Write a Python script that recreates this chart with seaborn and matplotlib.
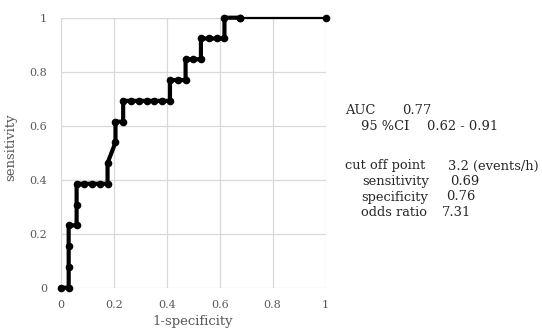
import matplotlib
matplotlib.use("Agg")
import matplotlib.pyplot as plt
import seaborn as sns
import pandas as pd

# ROC curve points
fpr = [0.0, 0.029, 0.029, 0.029, 0.029, 0.059, 0.059, 0.059, 0.088, 0.118,
       0.147, 0.176, 0.176, 0.206, 0.206, 0.235, 0.235, 0.265, 0.294, 0.324,
       0.353, 0.382, 0.412, 0.412, 0.441, 0.471, 0.471, 0.500, 0.529, 0.529,
       0.559, 0.588, 0.618, 0.618, 0.676, 1.0]
tpr = [0.0, 0.0, 0.077, 0.154, 0.231, 0.231, 0.308, 0.385, 0.385, 0.385,
       0.385, 0.385, 0.462, 0.538, 0.615, 0.615, 0.692, 0.692, 0.692, 0.692,
       0.692, 0.692, 0.692, 0.769, 0.769, 0.769, 0.846, 0.846, 0.846, 0.923,
       0.923, 0.923, 0.923, 1.0, 1.0, 1.0]

tick_values = [0, 0.2, 0.4, 0.6, 0.8, 1]
tick_labels = ["0", "0.2", "0.4", "0.6", "0.8", "1"]
x_label = "1-specificity"
y_label = "sensitivity"

stat_names = ["AUC", "95 %CI", "cut off point", "sensitivity", "specificity", "odds ratio"]
stat_values = ["0.77", "0.62 - 0.91", "3.2 (events/h)", "0.69", "0.76", "7.31"]

sns.set_style("whitegrid")
plt.rcParams["font.family"] = ["DejaVu Serif"]

W, H = 542, 331
fig = plt.figure(figsize=(W / 100, H / 100), dpi=100)
ax = fig.add_axes([61 / W, 1 - 287.7 / H, 264.5 / W, 270 / H])

df = pd.DataFrame({"fpr": fpr, "tpr": tpr})
main = df.iloc[:-1]
tail = df.iloc[-2:]

sns.lineplot(data=tail, x="fpr", y="tpr", sort=False, estimator=None, ax=ax,
             color="black", linewidth=1.6, marker="o", markersize=5.5,
             markeredgewidth=0, clip_on=False, zorder=3)
sns.lineplot(data=main, x="fpr", y="tpr", sort=False, estimator=None, ax=ax,
             color="black", linewidth=3.0, marker="o", markersize=5.5,
             markeredgewidth=0, clip_on=False, zorder=4)

ax.set_xlim(0, 1)
ax.set_ylim(0, 1)
ax.set_xticks(tick_values)
ax.set_yticks(tick_values)
ax.set_xticklabels(tick_labels)
ax.set_yticklabels(tick_labels)
for s in ax.spines.values():
    s.set_visible(False)
ax.grid(True, color="#d9d9d9", linewidth=0.9)
ax.tick_params(axis="both", length=0, labelsize=8, labelcolor="#595959")
ax.tick_params(axis="y", pad=10)
ax.tick_params(axis="x", pad=9)

ax.set_xlabel(x_label, fontsize=9.5, color="#595959")
ax.set_ylabel(y_label, fontsize=9.5, color="#595959")
ax.xaxis.set_label_coords(0.5, -0.1)
ax.yaxis.set_label_coords(-0.165, 0.52)

# stats text block
name_x = [345, 361, 345, 362, 361, 361]
val_x = [401.7, 426.7, 448.3, 450, 446, 442]
row_y = [110, 127, 166, 181.5, 197, 212]
for n, v, nx, vx, ry in zip(stat_names, stat_values, name_x, val_x, row_y):
    fig.text(nx / W, 1 - ry / H, n, fontsize=9.4, color="#262626", va="center", ha="left")
    fig.text(vx / W, 1 - ry / H, v, fontsize=9.4, color="#262626", va="center", ha="left")

fig.savefig("out.png", dpi=100)
